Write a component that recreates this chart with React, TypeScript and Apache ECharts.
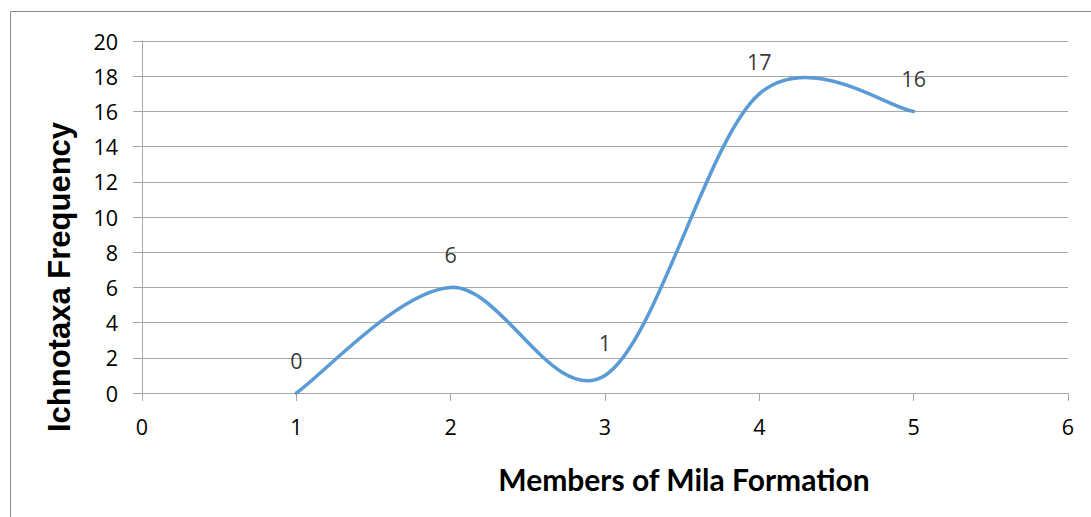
import React, { useEffect, useRef } from "react";
import * as echarts from "echarts";

const members = [1, 2, 3, 4, 5];
const frequency = [0, 6, 1, 17, 16];
const xTicks = { min: 0, max: 6, interval: 1 };
const yTicks = { min: 0, max: 20, interval: 2 };

export default function App() {
  const ref = useRef<HTMLDivElement>(null);
  useEffect(() => {
    const chart = echarts.init(ref.current!, null, { renderer: "svg" });
    const font = "Lato, 'Open Sans', sans-serif";
    const numFont = "'Open Sans', Lato, sans-serif";
    const arial = "'Liberation Sans', Arial, sans-serif";
    const points = members.map((m, i) => [m, frequency[i]]);
    chart.setOption({
      animation: false,
      backgroundColor: "#fff",
      textStyle: { fontFamily: font },
      graphic: [
        {
          type: "rect",
          shape: { x: 10.5, y: 11.5, width: 1200, height: 600 },
          style: { fill: "none", stroke: "#8c8c8c", lineWidth: 1 },
          silent: true,
        },
      ],
      grid: { left: 142, right: 23, top: 41, bottom: 124 },
      xAxis: {
        type: "value",
        min: xTicks.min,
        max: xTicks.max,
        interval: xTicks.interval,
        name: "Members of Mila Formation",
        nameLocation: "middle",
        nameGap: 71,
        nameTextStyle: {
          fontSize: 30,
          fontWeight: "bold",
          color: "#000",
          fontFamily: font,
          padding: [0, 0, 0, 158],
        },
        axisLine: { show: true, lineStyle: { color: "#a6a6a6", width: 1 } },
        axisTick: { show: true, length: 8, lineStyle: { color: "#a6a6a6" } },
        axisLabel: { fontSize: 21.5, color: "#000", margin: 22, fontFamily: numFont },
        splitLine: { show: false },
      },
      yAxis: {
        type: "value",
        min: yTicks.min,
        max: yTicks.max,
        interval: yTicks.interval,
        name: "Ichnotaxa Frequency",
        nameLocation: "middle",
        nameGap: 67,
        nameTextStyle: {
          fontSize: 31,
          fontWeight: "bold",
          color: "#000",
          fontFamily: arial,
          padding: [0, 120, 0, 0],
        },
        axisLine: { show: true, lineStyle: { color: "#a6a6a6", width: 1 } },
        axisTick: { show: true, length: 9, lineStyle: { color: "#a6a6a6" } },
        axisLabel: { fontSize: 21.5, color: "#000", margin: 24, fontFamily: numFont },
        splitLine: { show: true, lineStyle: { color: "#a6a6a6", width: 1 } },
      },
      series: [
        {
          type: "custom",
          coordinateSystem: "cartesian2d",
          data: points,
          encode: { x: 0, y: 1 },
          clip: false,
          renderItem: (params: any, api: any) => {
            const i = params.dataIndex;
            if (i >= points.length - 1) return null;
            const c = points.map((p) => api.coord(p));
            const p0 = c[Math.max(i - 1, 0)];
            const p1 = c[i];
            const p2 = c[i + 1];
            const p3 = c[Math.min(i + 2, c.length - 1)];
            return {
              type: "bezierCurve",
              shape: {
                x1: p1[0],
                y1: p1[1],
                cpx1: p1[0] + (p2[0] - p0[0]) / 6,
                cpy1: p1[1] + (p2[1] - p0[1]) / 6,
                cpx2: p2[0] - (p3[0] - p1[0]) / 6,
                cpy2: p2[1] - (p3[1] - p1[1]) / 6,
                x2: p2[0],
                y2: p2[1],
              },
              style: {
                fill: "none",
                stroke: "#5b9bd5",
                lineWidth: 3.5,
                lineCap: "round",
              },
            };
          },
        },
        {
          type: "scatter",
          data: points,
          symbolSize: 1,
          itemStyle: { color: "rgba(0,0,0,0)" },
          label: {
            show: true,
            position: "top",
            distance: 21,
            fontSize: 21.5,
            color: "#000",
            fontFamily: numFont,
            formatter: (p: any) => String(p.value[1]),
          },
        },
      ],
    });
    return () => chart.dispose();
  }, []);
  return (
    <div
      ref={ref}
      style={{ position: "fixed", left: 0, top: 0, width: 1091, height: 517 }}
    />
  );
}
